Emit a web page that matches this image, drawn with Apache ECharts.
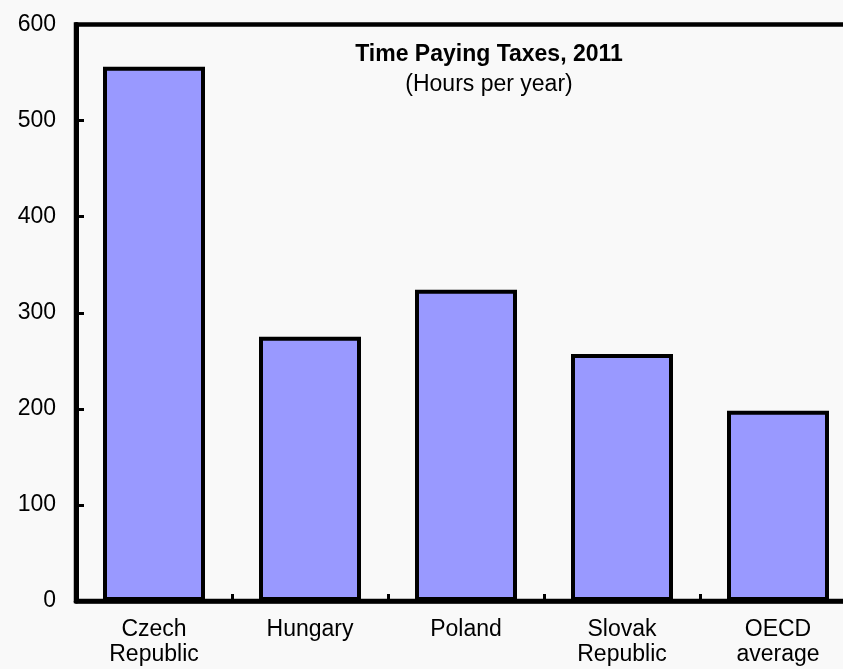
<!DOCTYPE html>
<html>
<head>
<meta charset="utf-8">
<script src="https://cdn.jsdelivr.net/npm/echarts@6/dist/echarts.min.js"></script>
<style>
  html, body { margin: 0; padding: 0; background: #f9f9f9; }
  #chart { width: 843px; height: 669px; }
</style>
</head>
<body>
<div id="chart"></div>
<script>
// Hours per year spent paying taxes, 2011
const categories = ['Czech\nRepublic', 'Hungary', 'Poland', 'Slovak\nRepublic', 'OECD\naverage'];
const hours = [556, 275, 324, 257, 198];
const yTicks = [0, 100, 200, 300, 400, 500, 600];

const FONT = '"Liberation Sans", Arial, sans-serif';

const chart = echarts.init(document.getElementById('chart'), null, { renderer: 'canvas' });

chart.setOption({
  backgroundColor: '#f9f9f9',
  animation: false,
  title: {
    text: 'Time Paying Taxes, 2011',
    subtext: '(Hours per year)',
    left: 484,
    top: 38,
    textAlign: 'center',
    itemGap: 6,
    textStyle: { fontFamily: FONT, fontSize: 23, fontWeight: 'bold', color: '#000', lineHeight: 24 },
    subtextStyle: { fontFamily: FONT, fontSize: 23, color: '#000', lineHeight: 24 }
  },
  // plot frame runs past the right edge of the canvas
  grid: {
    left: 76,
    top: 24.5,
    width: 780,
    bottom: 68,
    outerBoundsMode: 'none',
    containLabel: false,
    show: true,
    borderColor: '#000',
    borderWidth: 4.5,
    backgroundColor: 'transparent'
  },
  xAxis: {
    type: 'category',
    data: categories,
    boundaryGap: true,
    axisLine: { show: true, lineStyle: { color: '#000', width: 4.5 } },
    axisTick: { show: true, inside: true, length: 7, alignWithLabel: false, lineStyle: { color: '#000', width: 3 } },
    axisLabel: {
      margin: 16,
      fontFamily: FONT,
      fontSize: 23,
      lineHeight: 25,
      color: '#000',
      interval: 0
    },
    splitLine: { show: false }
  },
  yAxis: {
    type: 'value',
    min: yTicks[0],
    max: yTicks[yTicks.length - 1],
    interval: yTicks[1] - yTicks[0],
    axisLine: { show: true, lineStyle: { color: '#000', width: 5 } },
    axisTick: { show: true, inside: true, length: 8, lineStyle: { color: '#000', width: 3 } },
    axisLabel: {
      margin: 20,
      fontFamily: FONT,
      fontSize: 23,
      color: '#000'
    },
    splitLine: { show: false }
  },
  series: [{
    type: 'bar',
    data: hours,
    barWidth: 102,
    itemStyle: { color: '#9999ff', borderColor: '#000', borderWidth: 4 }
  }]
});
</script>
</body>
</html>
